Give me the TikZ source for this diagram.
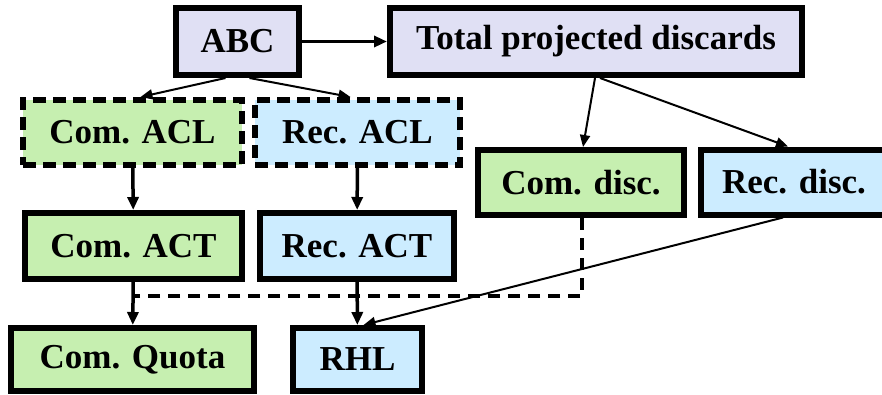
\documentclass[tikz,border=0pt]{standalone}
\usepackage{fontspec}
\setmainfont{Liberation Serif}
\usepackage{tikz}
\usetikzlibrary{arrows.meta}
\definecolor{boxpurple}{RGB}{224,224,244}
\definecolor{boxgreen}{RGB}{198,239,176}
\definecolor{boxblue}{RGB}{204,236,255}

\begin{document}
\begin{tikzpicture}[x=1pt,y=-1pt,
	box/.style={draw,line width=6pt,inner sep=0pt,minimum height=65pt,font=\fontsize{35}{40}\selectfont\bfseries},
	dashbox/.style={box,dash pattern=on 13pt off 7pt},
	link/.style={-{Triangle[length=13pt,width=11pt]},line width=2.5pt},
	thin link/.style={-{Triangle[length=12pt,width=10pt]},line width=2pt}]
	\clip (0,0) rectangle (882,394);
	\node[box,fill=boxpurple,minimum width=123pt,minimum height=67pt](abc) at (237.5,41.5){ABC};
	\node[box,fill=boxpurple,minimum width=412pt,minimum height=67pt](tot) at (596,41.5){Total projected discards};
	\node[dashbox,fill=boxgreen,minimum width=219pt](comacl) at (132.5,132.5){Com. ACL};
	\node[dashbox,fill=boxblue,minimum width=205pt](recacl) at (357.5,132.5){Rec. ACL};
	\node[box,fill=boxgreen,minimum width=206pt](comdisc) at (581,182.5){Com. disc.};
	\node[box,fill=boxblue,minimum width=186pt](recdisc) at (794,182){Rec. disc.};
	\node[box,fill=boxgreen,minimum width=217pt,minimum height=66pt](comact) at (133.5,246){Com. ACT};
	\node[box,fill=boxblue,minimum width=194pt,minimum height=66pt](recact) at (357,246){Rec. ACT};
	\node[box,fill=boxgreen,minimum width=243pt,minimum height=63pt](comquota) at (132.5,359.5){Com. Quota};
	\node[box,fill=boxblue,minimum width=129pt,minimum height=63pt](rhl) at (357.5,359.5){RHL};
	\coordinate (join) at (133.5,296);
	\draw[link,line width=3.5pt](abc)--(tot);
	\draw[thin link]([xshift=-12pt]abc.south)--([xshift=8pt]comacl.north);
	\draw[thin link]([xshift=12pt]abc.south)--([xshift=-7pt]recacl.north);
	\draw[thin link]([xshift=-1pt]tot.south)--([xshift=2pt]comdisc.north);
	\draw[thin link]([xshift=4pt]tot.south)--([xshift=-6pt]recdisc.north);
	\draw[link,line width=3.5pt](comacl)--(comact);
	\draw[link,line width=3.5pt](recacl)--(recact);
	\draw[line width=4pt,dash pattern=on 12pt off 8pt]([xshift=1pt]comdisc.south)|-(join);
	\draw[link,line width=3.5pt](comact)--(comquota);
	\draw[link,line width=3.5pt](recact)--(rhl);
	\draw[thin link]([xshift=-11pt]recdisc.south)--([xshift=6pt]rhl.north);
\end{tikzpicture}
\end{document}
